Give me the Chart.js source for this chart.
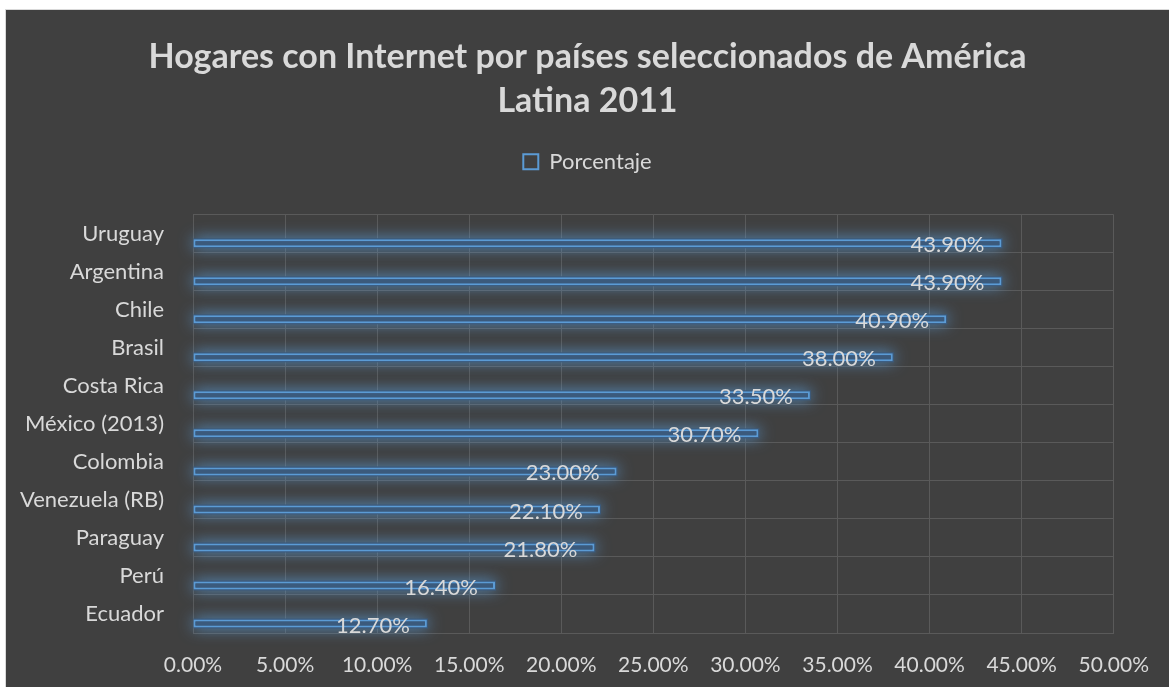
<!DOCTYPE html>
<html>
<head>
<meta charset="utf-8">
<script src="https://cdn.jsdelivr.net/npm/chart.js@4.4.1/dist/chart.umd.min.js"></script>
<style>
    html, body { margin: 0; padding: 0; background: #ffffff; overflow: hidden; }
    #wrap {
        position: absolute;
        left: 5px;
        top: 9px;
        width: 1163px;
        height: 677px;
        background: #404040;
        border-left: 1px solid #d9d9d9;
        border-top: 1px solid #d9d9d9;
    }
</style>
</head>
<body>
<div id="wrap"><canvas id="chartHogares" width="1163" height="677"></canvas></div>
<script>
const paises = ['Uruguay', 'Argentina', 'Chile', 'Brasil', 'Costa Rica', 'México (2013)',
    'Colombia', 'Venezuela (RB)', 'Paraguay', 'Perú', 'Ecuador'];
const porcentaje = [43.9, 43.9, 40.9, 38.0, 33.5, 30.7, 23.0, 22.1, 21.8, 16.4, 12.7];
const vacio = paises.map(() => null);
const ticksX = [0, 5, 10, 15, 20, 25, 30, 35, 40, 45, 50];

const AZUL = '#5b9bd5';
const RELLENO = '#3b5a7c';
const TEXTO = '#d9d9d9';
const REJILLA = '#5a5a5a';

// resplandor azul: la barra recorta su propio dibujo, así que la sombra va debajo
const brillo = {
    id: 'brillo',
    beforeDatasetDraw(chart, args) {
        if (args.index !== 1) return;
        const ctx = chart.ctx;
        ctx.save();
        ctx.shadowColor = 'rgba(91, 155, 213, 0.9)';
        ctx.shadowBlur = 15;
        ctx.fillStyle = RELLENO;
        args.meta.data.forEach(bar => {
            const { x, y, base, height } = bar.getProps(['x', 'y', 'base', 'height'], true);
            ctx.fillRect(base, y - height / 2 - 1, x - base + 1, height + 2);
        });
        ctx.restore();
    }
};

// huecos fijos: entre la leyenda y el área de trazado, y a la derecha del eje
const margenes = {
    id: 'margenes',
    beforeInit(chart) {
        const hueco = (position, fullSize, size) => ({
            position,
            weight: 0,
            fullSize,
            options: {},
            isHorizontal() { return position === 'top' || position === 'bottom'; },
            update(maxWidth, maxHeight) {
                if (this.isHorizontal()) {
                    this.width = maxWidth;
                    this.height = size;
                } else {
                    this.width = size;
                    this.height = maxHeight;
                }
            },
            draw() {}
        });
        Chart.layouts.addBox(chart, hueco('top', true, 32));
        Chart.layouts.addBox(chart, hueco('right', false, 55));
    }
};

// etiquetas de valor dentro del extremo de cada barra
const etiquetas = {
    id: 'etiquetas',
    afterDatasetsDraw(chart) {
        const ctx = chart.ctx;
        const meta = chart.getDatasetMeta(1);
        ctx.save();
        ctx.font = '22px Lato';
        ctx.fillStyle = TEXTO;
        ctx.textAlign = 'right';
        ctx.textBaseline = 'middle';
        meta.data.forEach((bar, i) => {
            ctx.fillText(porcentaje[i].toFixed(2) + '%', bar.x - 17, bar.y + 2);
        });
        ctx.restore();
    }
};

new Chart(document.getElementById('chartHogares'), {
    type: 'bar',
    data: {
        labels: paises,
        datasets: [
            { label: '', data: vacio, categoryPercentage: 1.0 },
            {
                label: 'Porcentaje',
                data: porcentaje,
                backgroundColor: RELLENO,
                borderColor: AZUL,
                borderWidth: 2,
                borderSkipped: false,
                categoryPercentage: 1.0,
                barPercentage: 0.42
            }
        ]
    },
    options: {
        indexAxis: 'y',
        responsive: false,
        animation: false,
        layout: { padding: 0 },
        plugins: {
            title: {
                display: true,
                text: ['Hogares con Internet por países seleccionados de América', 'Latina 2011'],
                color: TEXTO,
                font: { family: 'Lato', size: 34, weight: 'bold', lineHeight: 1.29 },
                padding: { top: 25, bottom: 18 }
            },
            legend: {
                display: true,
                position: 'top',
                labels: {
                    color: TEXTO,
                    font: { family: 'Lato', size: 22 },
                    boxWidth: 15,
                    boxHeight: 15,
                    padding: 10,
                    generateLabels: (chart) => Chart.defaults.plugins.legend.labels
                        .generateLabels(chart)
                        .filter(item => item.text !== '')
                        .map(item => Object.assign(item, { fillStyle: '#404040', lineWidth: 2 }))
                }
            },
            tooltip: { enabled: false }
        },
        scales: {
            x: {
                min: 0,
                max: 50,
                afterBuildTicks: (axis) => { axis.ticks = ticksX.map(v => ({ value: v })); },
                afterFit: (axis) => { axis.height = 54; },
                grid: { color: REJILLA, drawTicks: false },
                border: { color: REJILLA },
                ticks: {
                    color: TEXTO,
                    font: { family: 'Lato', size: 21 },
                    padding: 20,
                    callback: (v) => v.toFixed(2) + '%'
                }
            },
            y: {
                afterFit: (axis) => { axis.width = 187; },
                grid: { color: REJILLA, drawTicks: false },
                border: { color: REJILLA },
                ticks: {
                    color: TEXTO,
                    font: { family: 'Lato', size: 22 },
                    padding: 29
                }
            }
        }
    },
    plugins: [brillo, margenes, etiquetas]
});
</script>
</body>
</html>
